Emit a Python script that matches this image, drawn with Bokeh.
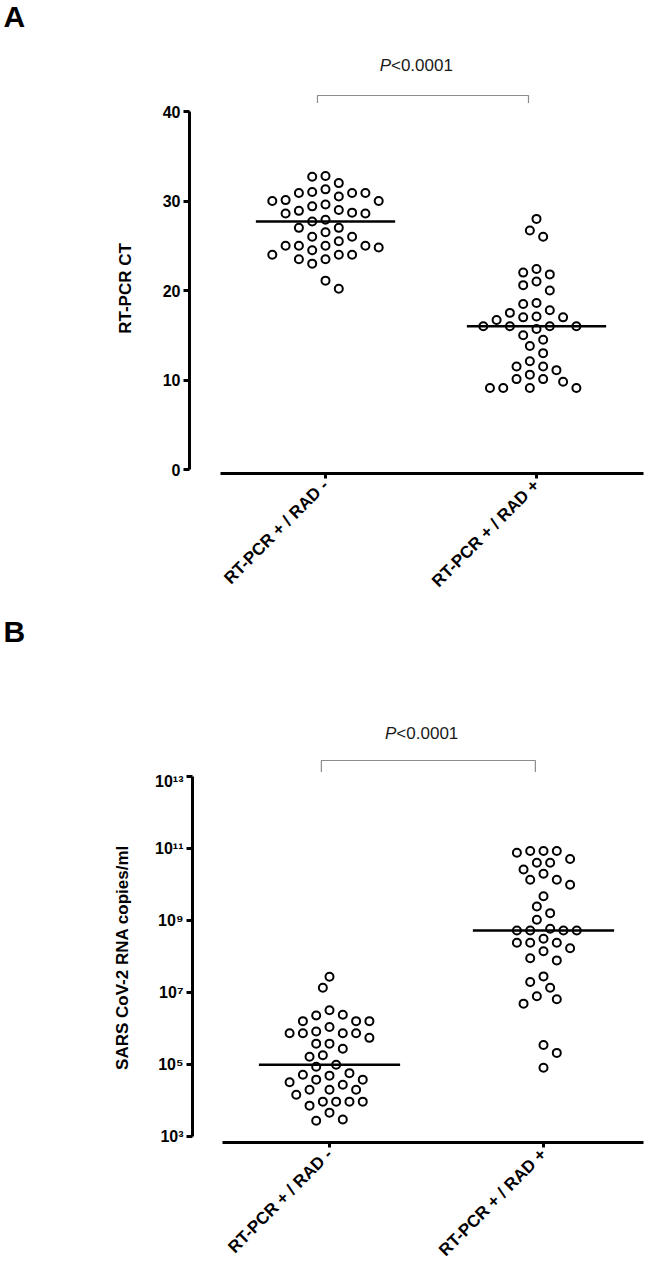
import math
import numpy as np
from bokeh.plotting import figure
from bokeh.layouts import column
from bokeh.models import Range1d, FixedTicker, CustomJSTickFormatter
from bokeh.core.properties import value
from bokeh.embed import file_html
from bokeh.resources import INLINE

# ---------------- data ----------------
CATEGORIES = ["RT-PCR + / RAD -", "RT-PCR + / RAD +"]

CT_RAD_NEG = [32.8, 32.0, 32.7,
              30.9, 31.0, 30.5, 30.0, 30.0, 30.1, 30.9, 30.9, 31.3,
              29.4, 28.9, 28.6, 27.7, 27.9, 28.6, 28.7, 29.0, 29.6,
              27.0, 26.5, 27.0,
              26.0, 25.5, 25.0, 25.0, 24.5, 24.8, 25.0, 25.0, 26.0,
              24.0, 24.0, 23.5, 23.0, 23.5, 24.0,
              20.2, 21.1]
CT_RAD_POS = [28.0, 26.7, 26.0,
              22.0, 21.8, 22.4, 21.0, 20.0, 20.6,
              18.6, 18.5,
              17.5, 17.1, 16.7, 17.0, 17.0, 17.8,
              16.0, 16.0, 16.0, 16.0, 15.7,
              14.5, 15.0, 13.8,
              13.0,
              11.5, 11.1, 10.6, 11.5, 12.1,
              10.1, 9.8,
              9.1, 9.1, 9.1, 9.1,
              10.1]

RNA_RAD_NEG = [2.75e7, 1.35e7,
               2.4e6, 1.6e6, 1.6e6, 1.6e6, 2.3e6, 3.2e6,
               8.3e5, 7.4e5, 7.4e5, 5.5e5, 7.4e5, 7.4e5, 1.1e6,
               3.8e5, 2.75e5, 3.8e5,
               1.65e5, 1.8e5,
               8.7e4, 9.8e4,
               5.2e4, 4.9e4, 5.75e4,
               3.8e4, 3.2e4, 2.75e4, 3.8e4,
               2.0e4, 2.0e4, 2.0e4,
               1.45e4,
               9.3e3, 9.3e3, 7.2e3, 9.3e3, 9.3e3,
               4.6e3, 2.75e3, 2.95e3]
RNA_RAD_POS = [8.5e10, 8.5e10, 5.1e10, 4.0e10, 4.0e10, 7.6e10, 8.5e10,
               2.6e10,
               1.35e10, 9.8e9, 1.35e10, 2.0e10,
               4.7e9, 2.45e9, 1.05e9, 1.6e9,
               5.25e8, 5.25e8, 5.9e8, 5.25e8, 5.25e8,
               3.1e8, 2.4e8, 2.4e8, 1.7e8, 2.4e8,
               1.4e8,
               7.8e7, 8.9e7,
               2.8e7, 1.95e7, 1.35e7,
               7.9e6, 4.9e6, 6.5e6,
               3.5e5, 2.1e5, 8.1e4]

CT_TICKS = [0, 10, 20, 30, 40]
RNA_TICKS = [1e3, 1e5, 1e7, 1e9, 1e11, 1e13]
P_PREFIX = "P"
P_TEXT = "<0.0001"
CT_TITLE = "RT-PCR CT"
RNA_TITLE = "SARS CoV-2 RNA copies/ml"
PANEL_A = "A"
PANEL_B = "B"

FONT = "Liberation Sans"
POS = [i + 1 for i in range(len(CATEGORIES))]
W = 645
MED_HALF = 0.33
BR_SHIFT = -0.038


def swarm(ypx, step=13.3, dmin=12.0):
    """Beeswarm offsets (pixels) for values already in pixel units."""
    ypx = np.asarray(ypx, float)
    order = np.argsort(-ypx, kind="stable")
    placed = []
    xs = np.zeros(len(ypx))
    side = -1
    for i in order:
        y = ypx[i]
        chosen = None
        k = 0
        while chosen is None:
            cands = [0.0] if k == 0 else [side * k * step / 2, -side * k * step / 2]
            for cx in cands:
                if all((cx - px) ** 2 + (y - py) ** 2 >= dmin ** 2 for px, py in placed):
                    chosen = cx
                    break
            k += 1
        if chosen > 0:
            side = -1
        elif chosen < 0:
            side = 1
        placed.append((chosen, y))
        xs[i] = chosen
    return xs


def style_axes(p, xbounds, ytitle, standoff):
    p.grid.visible = False
    p.outline_line_color = None
    for ax in (p.xaxis[0], p.yaxis[0]):
        ax.axis_line_width = 3
        ax.axis_line_color = "black"
        ax.major_tick_line_width = 3
        ax.major_tick_line_color = "black"
        ax.major_tick_in = 0
        ax.major_tick_out = 6
        ax.minor_tick_line_color = None
        ax.major_label_text_font = FONT
        ax.major_label_text_font_style = "bold"
        ax.major_label_text_color = "black"
    xa = p.xaxis[0]
    xa.ticker = FixedTicker(ticks=POS)
    xa.major_label_overrides = {POS[i]: CATEGORIES[i] for i in range(len(CATEGORIES))}
    xa.major_label_orientation = math.pi / 4
    xa.major_label_text_font_size = "17px"
    xa.major_label_standoff = 4
    xa.major_tick_out = 5
    xa.bounds = xbounds
    ya = p.yaxis[0]
    ya.major_label_text_font_size = "16px"
    ya.major_label_standoff = 3
    ya.axis_label = ytitle
    ya.axis_label_text_font = FONT
    ya.axis_label_text_font_style = "bold"
    ya.axis_label_text_font_size = "17px"
    ya.axis_label_text_color = "black"
    ya.axis_label_standoff = standoff


def header(height, letter, letter_y, px_left, px_right, br_top, br_bottom, p_y):
    h = figure(width=W, height=height, output_backend="svg", toolbar_location=None,
               title=None, x_range=Range1d(0, W), y_range=Range1d(height, 0),
               x_axis_location=None, y_axis_location=None, frame_align=False,
               min_border_left=0, min_border_right=0, min_border_top=0, min_border_bottom=0)
    h.grid.visible = False
    h.outline_line_color = None
    h.text(x=[3], y=[letter_y], text=[letter], text_font=value(FONT), text_font_style="bold",
           text_font_size="30px", text_align="left", text_baseline="top", text_color="black")
    h.line([px_left, px_left, px_right, px_right], [br_bottom, br_top, br_top, br_bottom],
           line_color="#8c8c8c", line_width=1.2)
    split = (px_left + px_right) / 2 - 32
    h.text(x=[split], y=[p_y], text=[P_PREFIX], text_font=value(FONT), text_font_style="italic",
           text_font_size="17px", text_align="right", text_baseline="middle", text_color="#1a1a1a")
    h.text(x=[split], y=[p_y], text=[P_TEXT], text_font=value(FONT), text_font_style="normal",
           text_font_size="17px", text_align="left", text_baseline="middle", text_color="#1a1a1a")
    return h


# ---------------- Panel A ----------------
XA = 211.0   # px per category unit
YA = 8.95    # px per CT unit
LA = 189     # frame left
x0A = 1 - 136 / XA
pA = figure(width=W, height=510, output_backend="svg", toolbar_location=None,
            title=None, frame_align=False,
            x_range=Range1d(x0A, x0A + (W - LA - 2) / XA),
            y_range=Range1d(-4 / YA, 366 / YA),
            min_border_left=LA, min_border_right=2,
            min_border_top=0, min_border_bottom=140)
for pos, vals in zip(POS, [CT_RAD_NEG, CT_RAD_POS]):
    v = np.array(vals, float)
    off = swarm(v * YA) / XA
    pA.scatter(pos + off, v, size=8, marker="circle", fill_color=None,
               line_color="black", line_width=2)
    med = float(np.median(v))
    pA.segment(x0=[pos - MED_HALF], y0=[med], x1=[pos + MED_HALF], y1=[med],
               line_color="black", line_width=2.5)
style_axes(pA, (0.5, 2.6), CT_TITLE, 25)
pA.yaxis[0].ticker = FixedTicker(ticks=CT_TICKS)
pA.yaxis[0].bounds = (CT_TICKS[0], CT_TICKS[-1])

hA = header(103, PANEL_A, -1,
            LA + (POS[0] + BR_SHIFT - x0A) * XA, LA + (POS[1] + BR_SHIFT - x0A) * XA,
            95, 103, 65)

# ---------------- Panel B ----------------
XB = 214.0   # px per category unit
YB = 36.0    # px per decade
LB = 192
x0B = 1 - 137 / XB
pB = figure(width=W, height=500, output_backend="svg", toolbar_location=None,
            title=None, y_axis_type="log", frame_align=False,
            x_range=Range1d(x0B, x0B + (W - LB - 2) / XB),
            y_range=Range1d(10 ** (3 - 6 / YB), 10 ** (3 + 364 / YB)),
            min_border_left=LB, min_border_right=2,
            min_border_top=0, min_border_bottom=130)
for pos, vals in zip(POS, [RNA_RAD_NEG, RNA_RAD_POS]):
    v = np.array(vals, float)
    off = swarm(np.log10(v) * YB) / XB
    pB.scatter(pos + off, v, size=8, marker="circle", fill_color=None,
               line_color="black", line_width=2)
    med = float(np.median(v))
    pB.segment(x0=[pos - MED_HALF], y0=[med], x1=[pos + MED_HALF], y1=[med],
               line_color="black", line_width=2.5)
style_axes(pB, (0.5, 2.6), RNA_TITLE, 20)
pB.yaxis[0].ticker = FixedTicker(ticks=RNA_TICKS)
pB.yaxis[0].bounds = (RNA_TICKS[0], RNA_TICKS[-1])
pB.yaxis[0].formatter = CustomJSTickFormatter(code="""
const sup = {"0":"\u2070","1":"\u00b9","2":"\u00b2","3":"\u00b3","4":"\u2074",
             "5":"\u2075","6":"\u2076","7":"\u2077","8":"\u2078","9":"\u2079"};
const e = Math.round(Math.log10(tick));
return "10" + String(e).split("").map(c => sup[c]).join("");
""")

hB = header(159, PANEL_B, 1,
            LB + (POS[0] + BR_SHIFT - x0B) * XB, LB + (POS[1] + BR_SHIFT - x0B) * XB,
            147, 159, 120)

layout = column(hA, pA, hB, pB, spacing=0)
with open("out.html", "w") as f:
    f.write(file_html(layout, INLINE))
